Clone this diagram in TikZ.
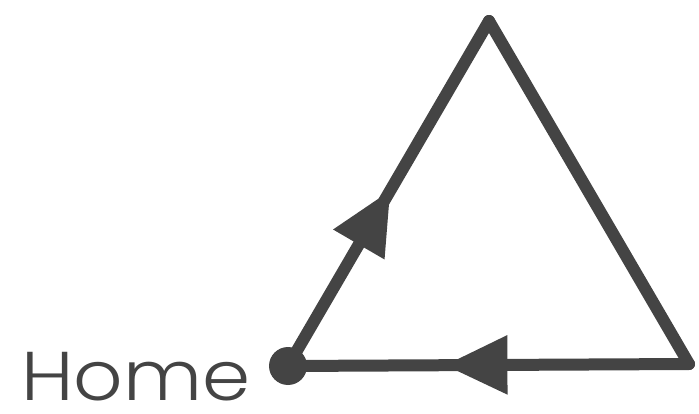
\documentclass[tikz,border=0pt]{standalone}
\usepackage{fontspec}
\newfontfamily\homefont[FakeStretch=1.12]{Poppins Light}
\usetikzlibrary{arrows.meta,decorations.markings}
\definecolor{ink}{HTML}{444444}
\tikzset{
  edge/.style={draw=ink, line width=12pt, line join=round, line cap=round},
  midarrow/.style={postaction={decorate}, decoration={markings,
      mark=at position #1 with {\arrow{Triangle[length=63pt,width=56pt]}}}},
}

\begin{document}
\begin{tikzpicture}[x=1pt, y=-1pt]
    \useasboundingbox (0,0) rectangle (699,414);
    \node[circle, fill=ink, minimum size=38pt, inner sep=0pt] (home) at (288,366) {};
    \coordinate (top) at (489,21);
    \coordinate (right) at (689,364);
    \draw[edge, midarrow=0.51] (home.center) -- (top);
    \draw[edge] (top) -- (right);
    \draw[edge, midarrow=0.61] (right) -- (home.center);
    \node[anchor=base west, inner sep=0pt, text depth=0pt, text=ink, font=\homefont\fontsize{69}{69}\selectfont] (label) at (21,400) {Home};
\end{tikzpicture}
\end{document}
